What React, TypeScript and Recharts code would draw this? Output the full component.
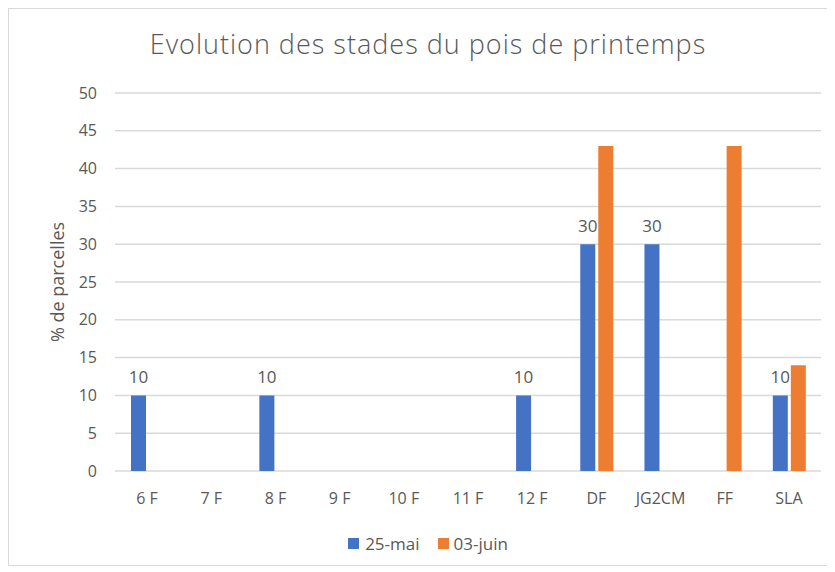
import React from "react";
import { BarChart, Bar, XAxis, YAxis, CartesianGrid, Legend, LabelList } from "recharts";

const categories = ["6 F", "7 F", "8 F", "9 F", "10 F", "11 F", "12 F", "DF", "JG2CM", "FF", "SLA"];
const mai25: (number | null)[] = [10, null, 10, null, null, null, 10, 30, 30, null, 10];
const juin03: (number | null)[] = [null, null, null, null, null, null, null, 43, null, 43, 14];
const yTicks = [0, 5, 10, 15, 20, 25, 30, 35, 40, 45, 50];

const data = categories.map((c, i) => ({ cat: c, mai: mai25[i], juin: juin03[i] }));

const FONT = "'Open Sans', 'Noto Sans', sans-serif";
const TXT = "#595959";

const renderLegend = () => (
  <div style={{ display: "flex", justifyContent: "center", gap: 18, fontFamily: FONT, fontSize: 17, color: TXT, paddingLeft: 26, marginTop: -2 }}>
    <span style={{ display: "flex", alignItems: "center" }}>
      <span style={{ width: 11, height: 11, background: "#4472C4", display: "inline-block", marginRight: 6 }} />
      25-mai
    </span>
    <span style={{ display: "flex", alignItems: "center" }}>
      <span style={{ width: 11, height: 11, background: "#ED7D31", display: "inline-block", marginRight: 5 }} />
      03-juin
    </span>
  </div>
);

export default function App() {
  return (
    <div style={{ position: "relative", width: 820, height: 556, border: "1px solid #d9d9d9", background: "#fff" }}>
      <div style={{ position: "absolute", top: 16, left: 0, width: 838, textAlign: "center", fontFamily: FONT, fontSize: 27, letterSpacing: 1, color: TXT, fontWeight: 300 }}>
        Evolution des stades du pois de printemps
      </div>
      <BarChart
        width={820}
        height={556}
        data={data}
        margin={{ top: 84, right: 8, left: 0, bottom: 10 }}
        barGap={3}
        barSize={15}
      >
        <CartesianGrid vertical={false} stroke="#d9d9d9" strokeWidth={1.5} />
        <XAxis
          dataKey="cat"
          axisLine={false}
          tickLine={false}
          tick={{ fill: TXT, fontSize: 16, fontFamily: FONT }}
          height={63}
          tickMargin={16}
        />
        <YAxis
          domain={[0, 50]}
          ticks={yTicks}
          axisLine={false}
          tickLine={false}
          width={106}
          tick={{ fill: TXT, fontSize: 16, fontFamily: FONT }}
          tickMargin={12}
          label={{ value: "% de parcelles", angle: -90, position: "insideLeft", offset: 49, style: { fill: TXT, fontSize: 18, fontFamily: FONT, textAnchor: "middle" } }}
        />
        <Legend verticalAlign="bottom" content={renderLegend} wrapperStyle={{ paddingTop: 0 }} />
        <Bar dataKey="mai" name="25-mai" fill="#4472C4" isAnimationActive={false}>
          <LabelList dataKey="mai" position="top" offset={12} style={{ fill: TXT, fontSize: 17, fontFamily: FONT }} />
        </Bar>
        <Bar dataKey="juin" name="03-juin" fill="#ED7D31" isAnimationActive={false} />
      </BarChart>
    </div>
  );
}
